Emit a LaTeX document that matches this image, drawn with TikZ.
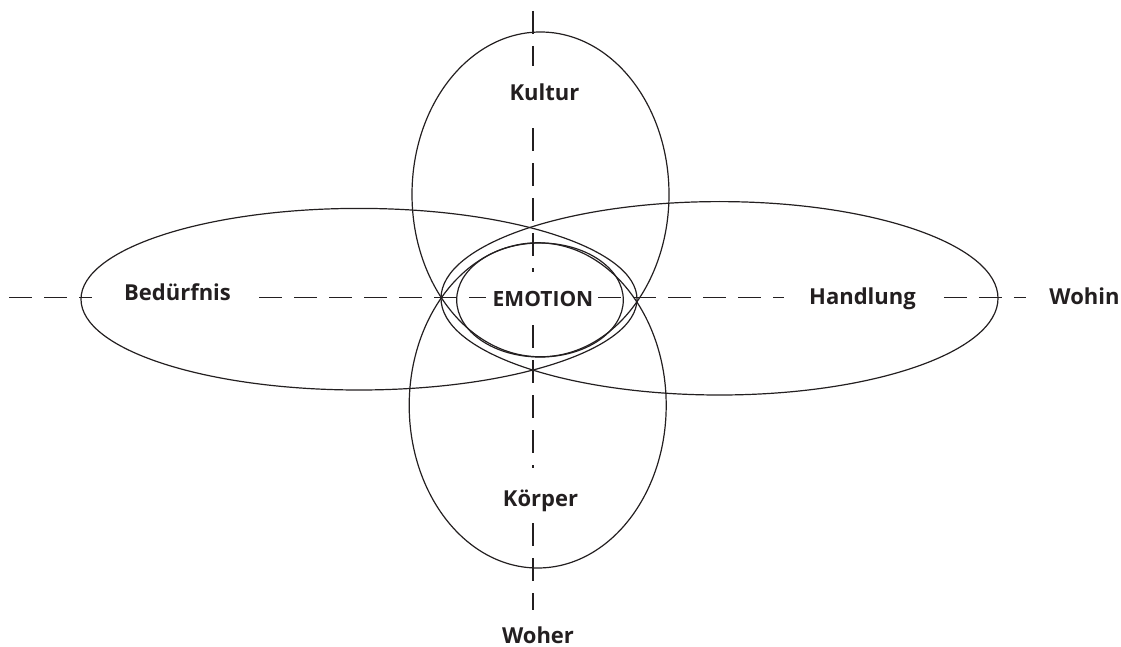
\documentclass[tikz,border=0pt]{standalone}
\usepackage{fontspec}
\setmainfont{Open Sans}
\definecolor{ink}{HTML}{231F20}
\begin{document}
\begin{tikzpicture}[x=1pt,y=-1pt,
  ring/.style={draw=ink,line width=1.2pt},
  axis/.style={draw=ink,line width=1.2pt,dash pattern=on 23pt off 12pt},
  lbl/.style={font=\bfseries\fontsize{22}{26}\selectfont,inner sep=0pt,text=ink,anchor=base},
  emolbl/.style={lbl,font=\bfseries\fontsize{21}{24}\selectfont}]
\useasboundingbox (0,0) rectangle (1121,647);
% labels
\node[lbl] (kul) at (544.5,100.7) {Kultur};
\node[lbl] (bed) at (177.5,300.7) {Bedürfnis};
\node[emolbl] (emo) at (543,306) {EMOTION};
\node[lbl] (hand) at (862.5,304) {Handlung};
\node[lbl] (wohin) at (1084.5,304) {Wohin};
\node[lbl] (kor) at (540.5,506) {Körper};
\node[lbl] (woher) at (538,643) {Woher};
% axis ends
\coordinate (hl) at (9,297.3);
\coordinate (vt) at (533,11);
% horizontal axis
\draw[axis,shorten >=32pt] (hl) -- (hl -| bed.west);
\draw[axis,shorten <=28pt,shorten >=7pt] (hl -| bed.east) -- (hl -| emo.west);
\draw[axis,shorten <=5pt,shorten >=25pt] (hl -| emo.east) -- (hl -| hand.west);
\draw[axis,shorten <=28pt,shorten >=23pt] (hl -| hand.east) -- (hl -| wohin.west);
% vertical axis
\draw[axis,shorten >=18pt] (vt) -- (vt |- kul.north);
\draw[axis,shorten <=27pt,shorten >=19pt] (vt |- kul.south) -- (vt |- emo.north);
\draw[axis,shorten <=19pt,shorten >=21pt] (vt |- emo.south) -- (vt |- kor.north);
\draw[axis,shorten <=12pt,shorten >=16pt] (vt |- kor.south) -- (vt |- woher.north);
% ellipses
\draw[ring] (540.5,194.4) ellipse [x radius=128.5,y radius=162.4];
\draw[ring] (537.7,405.4) ellipse [x radius=128.5,y radius=162.6];
\draw[ring] (359,299.2) ellipse [x radius=278,y radius=90.8];
\draw[ring] (719.5,298.3) ellipse [x radius=278.5,y radius=96.7];
\draw[ring] (540,300) ellipse [x radius=83.3,y radius=57];
\end{tikzpicture}
\end{document}
